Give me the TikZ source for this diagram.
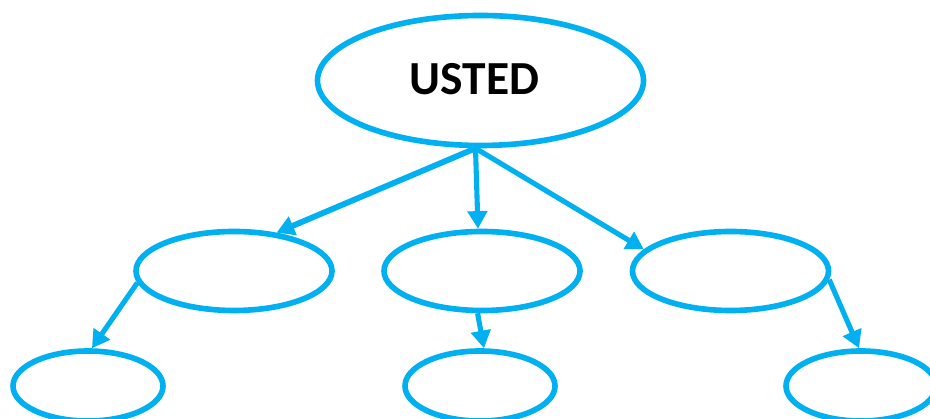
\documentclass[tikz,border=0pt]{standalone}
\usepackage{fontspec}
\setsansfont{Carlito}
\usepackage{xcolor}
\usetikzlibrary{arrows.meta, positioning, shapes.geometric, calc}

\definecolor{skyline}{RGB}{0,176,240}

\begin{document}
\begin{tikzpicture}[
    topic/.style={draw=skyline, ellipse, line width=3.2pt, minimum width=6.52cm,
                  minimum height=2.6cm, inner sep=0pt,
                  font=\sffamily\bfseries\fontsize{27}{30}\selectfont},
    idea/.style={draw=skyline, ellipse, line width=3.2pt, minimum width=3.92cm,
                 minimum height=1.58cm},
    detail/.style={draw=skyline, ellipse, line width=3.2pt, minimum width=3.0cm,
                   minimum height=1.40cm},
    line/.style={draw=skyline, line width=2.9pt,
                 -{Triangle[length=10pt, width=11pt]}}
]
    \useasboundingbox (0,0) rectangle (18.6,8.38);

    \node[topic]  (usted)  at (9.61,6.77) {\hspace*{-0.25cm}\raisebox{2pt}{USTED}};
    \node[idea]   (left)   at (4.68,2.96) {};
    \node[idea]   (middle) at (9.64,2.96) {};
    \node[idea]   (right)  at (14.61,2.96) {};
    \node[detail] (leftd)  at (1.76,0.66) {};
    \node[detail] (midd)   at (9.60,0.66) {};
    \node[detail] (rightd) at (17.22,0.66) {};

    \draw[line, line width=3.3pt] ([xshift=-0.1cm]usted.south) -- (left.42);
    \draw[line] ([xshift=-0.1cm]usted.south) -- ([xshift=-0.08cm]middle.north);
    \draw[line] ([xshift=-0.1cm]usted.south) -- (right.166);
    \draw[line] (left.187)  -- (leftd.84);
    \draw[line] (middle.264) -- (midd.84);
    \draw[line] (right.-5)  -- (rightd.93);

\end{tikzpicture}
\end{document}
